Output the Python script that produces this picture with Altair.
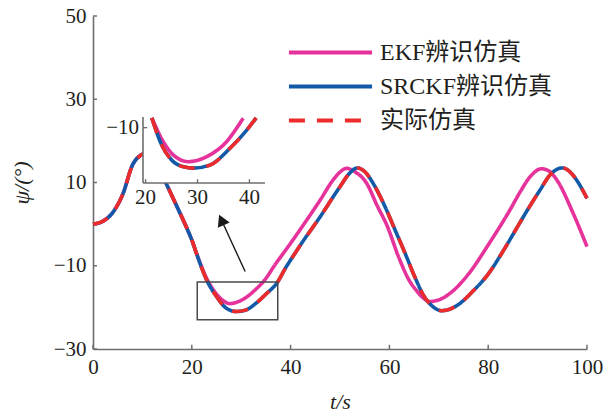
import altair as alt
import pandas as pd

# ---------------- data ----------------
names = ["EKF辨识仿真", "SRCKF辨识仿真", "实际仿真"]

act_t = [0, 2, 4, 6, 8, 10, 11.5, 13, 15, 17, 19, 20, 21, 22, 23, 25, 27, 29, 31, 33,
         35.2, 37.2, 39, 41, 42, 46, 50, 52, 53.5, 55, 57, 59, 61, 63, 65, 67, 69, 70.5,
         72, 74, 77, 80, 83, 86, 88, 90.5, 92.5, 95, 97, 98, 100]
act_v = [0, 0.7, 2.8, 7.1, 14.2, 16.8, 17.4, 14.5, 9.3, 4.2, -1.0, -3.8, -7.2, -10.5, -13.4,
         -17.4, -20.2, -21.0, -20.6, -19.0, -16.6, -14.2, -10.5, -6.8, -5.0, 1.8, 9.0, 12.3,
         13.5, 12.6, 9.2, 4.5, -1.0, -6.5, -12.3, -17.3, -20.0, -20.8, -20.5, -19.3, -16.0,
         -12.0, -6.5, -0.5, 3.5, 8.2, 11.8, 13.5, 12.0, 10.4, 6.2]

srckf_t = [0, 2, 4, 6, 8, 10, 11.5, 13, 15, 17, 19, 20, 21, 22, 23, 25, 27, 29, 31, 33,
           35.2, 37.2, 39, 41, 42, 46, 50, 52, 53.5, 55, 57, 59, 61, 63, 65, 67, 69, 70.5,
           72, 74, 77, 80, 83, 86, 88, 90.5, 92.5, 95, 97, 98, 100]
srckf_v = [0, 0.7, 2.8, 7.1, 14.2, 16.8, 17.4, 14.5, 9.3, 4.2, -1.0, -3.8, -7.2, -10.5, -13.4,
           -17.4, -20.2, -21.0, -20.6, -19.0, -16.6, -14.2, -10.5, -6.8, -5.0, 1.8, 9.0, 12.3,
           13.5, 12.6, 9.2, 4.5, -1.0, -6.5, -12.3, -17.3, -20.0, -20.8, -20.5, -19.3, -16.0,
           -12.0, -6.5, -0.5, 3.5, 8.2, 11.8, 13.5, 12.0, 10.4, 6.2]

ekf_t = [0, 2, 4, 6, 8, 10, 11.5, 13, 15, 17, 19, 20, 21, 22, 23, 25, 26.5, 27.7, 29, 31,
         33, 34.5, 37, 40, 42, 46, 48.6, 50, 51.3, 53, 55.4, 57.5, 59.5, 62, 64, 65.5, 67,
         68.2, 70, 72.3, 76, 80, 84.4, 86.5, 88.5, 90.8, 92.5, 93.9, 97.2, 100]
ekf_v = [0, 0.7, 2.8, 7.1, 14.2, 16.8, 17.4, 14.5, 9.3, 4.2, -1.0, -3.8, -7.2, -10.3, -13.0,
         -16.8, -18.5, -19.1, -18.8, -17.6, -15.6, -13.8, -9.5, -4.6, -1.2, 5.8, 10.6, 12.5,
         13.4, 12.6, 9.8, 4.5, -0.3, -8.3, -13.5, -16.0, -17.9, -18.6, -18.2, -16.6, -12.0,
         -5.0, 3.4, 7.8, 11.4, 13.3, 12.6, 10.6, 2.6, -5.4]

# inset (zoomed) series
ins_ekf_t = [21.2, 23.4, 25.3, 28.2, 31.8, 35.6, 38.8]
ins_ekf_v = [-7.7, -13.3, -16.4, -18.0, -16.8, -13.3, -7.8]
ins_act_t = [21.2, 23.1, 25.0, 27.3, 29.2, 32.4, 36.3, 39.2, 41.3]
ins_act_v = [-7.7, -14.1, -17.6, -19.2, -19.5, -18.8, -14.8, -11.0, -7.7]

x_ticks = [0, 20, 40, 60, 80, 100]
y_ticks = [-30, -10, 10, 30, 50]
ins_x_ticks = [20, 30, 40]
ins_y_ticks = [-10]

zoom_box = {"t": [21.1], "t2": [37.4], "v": [-13.9], "v2": [-23.0]}
arrow = {"t": [30.8], "t2": [26.0], "v": [-11.4], "v2": [1.0]}

# ---------------- styling ----------------
PINK = "#E5339B"
BLUE = "#125AA8"
RED = "#EE2B2B"
AX = "#6E6E6E"
TXT = "#231F20"
FONT = "Liberation Serif, Noto Sans CJK SC"
LW = 3.6

main_df = pd.concat([
    pd.DataFrame({"t": ekf_t, "v": ekf_v, "series": names[0]}),
    pd.DataFrame({"t": srckf_t, "v": srckf_v, "series": names[1]}),
    pd.DataFrame({"t": act_t, "v": act_v, "series": names[2]}),
])

xs = alt.Scale(domain=[0, 100], nice=False, zero=False)
ys = alt.Scale(domain=[-30, 50], nice=False, zero=False)
X = alt.X("t:Q", scale=xs, axis=alt.Axis(values=x_ticks, title="t/s", format="d", labelFlush=False))
Y = alt.Y("v:Q", scale=ys, axis=alt.Axis(values=y_ticks, title="ψ/(°)", format="d", labelFlush=False))

color_scale = alt.Scale(domain=names, range=[PINK, BLUE, RED])
dash_scale = alt.Scale(domain=names, range=[[1, 0], [1, 0], [16, 12]])
leg = alt.Legend(orient="none", legendX=225, legendY=24, title="", symbolType="M-4,0H4",
                 symbolSize=432, symbolStrokeWidth=4, labelFontSize=24, labelFont=FONT,
                 labelColor=TXT, labelOffset=37, rowPadding=9, labelLimit=300)


def main_line(name):
    return alt.Chart(main_df).transform_filter(alt.datum.series == name).mark_line(
        strokeWidth=LW, interpolate="monotone").encode(
        x=X, y=Y,
        color=alt.Color("series:N", scale=color_scale, legend=leg),
        strokeDash=alt.StrokeDash("series:N", scale=dash_scale, legend=leg),
    )


xtick_layer = alt.Chart(pd.DataFrame({"t": x_ticks, "a": -30, "b": -29})).mark_rule(
    color=AX, strokeWidth=1.5).encode(x=X, y=alt.Y("a:Q", scale=ys), y2="b:Q")
ytick_layer = alt.Chart(pd.DataFrame({"v": y_ticks, "a": 0, "b": 0.8})).mark_rule(
    color=AX, strokeWidth=1.5).encode(y=Y, x=alt.X("a:Q", scale=xs), x2="b:Q")

box_layer = alt.Chart(pd.DataFrame(zoom_box)).mark_rect(
    filled=False, stroke="#4A4A4A", strokeWidth=1.5).encode(x=X, x2="t2:Q", y=Y, y2="v2:Q")
arrow_line = alt.Chart(pd.DataFrame(arrow)).mark_rule(color="#1A1A1A", strokeWidth=1.4).encode(
    x=X, x2="t2:Q", y=Y, y2="v2:Q")
arrow_head = alt.Chart(pd.DataFrame({"t": arrow["t2"], "v": arrow["v2"]})).mark_point(
    shape="triangle-up", filled=True, color="#1A1A1A", size=170, angle=335.6, opacity=1).encode(
    x=X, y=Y)

main = alt.layer(main_line(names[0]), main_line(names[1]), main_line(names[2]),
                 xtick_layer, ytick_layer, box_layer, arrow_line, arrow_head)

# ---------------- inset ----------------
hidden = alt.Axis(labels=False, ticks=False, domain=False, title="", grid=False)
ixs = alt.Scale(domain=[19.5, 43], range=[50, 172], nice=False, zero=False)
iys = alt.Scale(domain=[-23, -7.5], range=[167, 101], nice=False, zero=False)
IX = alt.X("t:Q", scale=ixs, axis=hidden)
IY = alt.Y("v:Q", scale=iys, axis=hidden)

ins_bg = alt.Chart(pd.DataFrame({"t": [19.5], "t2": [43], "v": [-23], "v2": [-7.5]})).mark_rect(
    fill="white").encode(x=IX, x2="t2:Q", y=IY, y2="v2:Q")
ins_xaxis = alt.Chart(pd.DataFrame({"t": [19.5], "t2": [43], "v": [-23]})).mark_rule(
    color=AX, strokeWidth=1.6).encode(x=IX, x2="t2:Q", y=IY)
ins_yaxis = alt.Chart(pd.DataFrame({"t": [19.5], "v": [-23], "v2": [-7.5]})).mark_rule(
    color=AX, strokeWidth=1.6).encode(x=IX, y=IY, y2="v2:Q")
ins_xt = alt.Chart(pd.DataFrame({"t": ins_x_ticks, "v": -23, "v2": -22.1})).mark_rule(
    color=AX, strokeWidth=1.4).encode(x=IX, y=IY, y2="v2:Q")
ins_yt = alt.Chart(pd.DataFrame({"v": ins_y_ticks, "t": 19.5, "t2": 20.3})).mark_rule(
    color=AX, strokeWidth=1.4).encode(y=IY, x=IX, x2="t2:Q")
ins_xl = alt.Chart(pd.DataFrame({"t": ins_x_ticks, "v": -23, "lab": [str(v) for v in ins_x_ticks]})).mark_text(
    font=FONT, fontSize=21, color=TXT, baseline="top", dy=4).encode(x=IX, y=IY, text="lab:N")
ins_yl = alt.Chart(pd.DataFrame({"v": ins_y_ticks, "t": 19.5,
                                 "lab": [str(v).replace("-", "−") for v in ins_y_ticks]})).mark_text(
    font=FONT, fontSize=21, color=TXT, align="right", baseline="middle", dx=-4).encode(
    x=IX, y=IY, text="lab:N")

ins_ekf = alt.Chart(pd.DataFrame({"t": ins_ekf_t, "v": ins_ekf_v})).mark_line(
    color=PINK, strokeWidth=LW, interpolate="monotone").encode(x=IX, y=IY)
ins_blue = alt.Chart(pd.DataFrame({"t": ins_act_t, "v": ins_act_v})).mark_line(
    color=BLUE, strokeWidth=LW, interpolate="monotone").encode(x=IX, y=IY)
ins_red = alt.Chart(pd.DataFrame({"t": ins_act_t, "v": ins_act_v})).mark_line(
    color=RED, strokeWidth=LW, strokeDash=[16, 12], interpolate="monotone").encode(x=IX, y=IY)

inset = alt.layer(ins_bg, ins_ekf, ins_blue, ins_red, ins_xaxis, ins_yaxis, ins_xt, ins_yt,
                  ins_xl, ins_yl)

chart = alt.layer(main, inset).resolve_scale(x="independent", y="independent").properties(
    width=494, height=333,
    padding={"left": 93, "top": 16, "right": 17, "bottom": 71},
    autosize=alt.AutoSizeParams(type="none"),
    background="white",
).configure_view(stroke=None).configure_axis(
    grid=False, domainColor=AX, domainWidth=1.6, ticks=False,
    labelFont=FONT, labelFontSize=21, labelColor=TXT,
    titleFont=FONT, titleFontSize=22, titleColor=TXT, titleFontWeight="normal",
    titleFontStyle="italic",
).configure_axisX(labelPadding=7, titlePadding=14).configure_axisY(labelPadding=7, titlePadding=20)

chart.save("out.html", embed_options={"renderer": "svg", "actions": False})
